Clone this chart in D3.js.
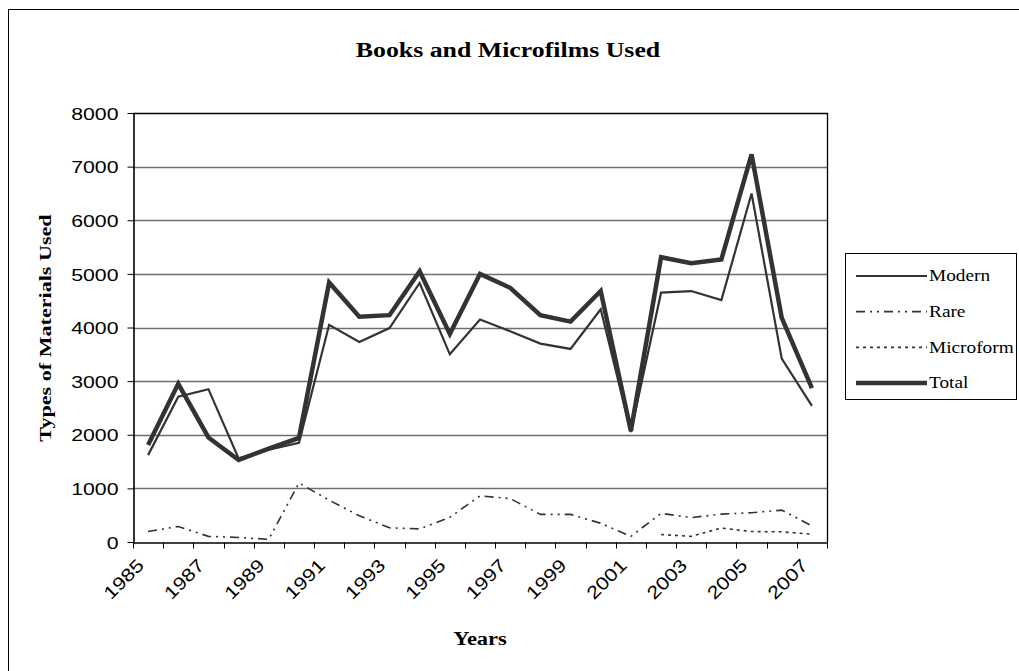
<!DOCTYPE html>
<html>
<head>
<meta charset="utf-8">
<script src="https://cdn.jsdelivr.net/npm/d3@7/dist/d3.min.js"></script>
<style>
  html, body { margin: 0; padding: 0; background: #fff; }
  svg { display: block; }
</style>
</head>
<body>
<svg id="chart" width="1019" height="671"></svg>
<script>
// ---- Data ----
const years = ["1985","1986","1987","1988","1989","1990","1991","1992","1993","1994","1995","1996",
               "1997","1998","1999","2000","2001","2002","2003","2004","2005","2006","2007"];
const tickLabels = ["1985","1987","1989","1991","1993","1995","1997","1999","2001","2003","2005","2007"];
const yTicks = [0,1000,2000,3000,4000,5000,6000,7000,8000];
const modern = [1620,2710,2850,1560,1720,1850,4050,3730,3990,4830,3500,4150,
                3930,3700,3600,4340,2050,4650,4680,4510,6500,3420,2540];
const rare = [195,290,105,85,50,1100,780,490,265,245,460,860,
              810,515,515,350,105,535,455,520,545,595,300];
const microform = [null,null,null,null,null,null,null,null,null,null,null,null,
                   null,null,null,null,null,140,105,260,195,190,145];
const total = [1810,2950,1950,1530,1740,1940,4840,4200,4230,5050,3880,5000,
               4740,4230,4110,4680,2070,5310,5200,5270,7230,4180,2870];
const seriesNames = ["Modern","Rare","Microform","Total"];

// ---- Layout ----
const svg = d3.select("#chart");
const plot = {left: 133, right: 827, top: 113, bottom: 542};
const serif = "'Liberation Serif','Times New Roman',serif";
const sans = "'Liberation Sans',Arial,sans-serif";
const lineColor = "#333333";

function stretch(sel, k) {
  sel.each(function() {
    const L = this.getComputedTextLength();
    d3.select(this).attr("textLength", L * k).attr("lengthAdjust", "spacingAndGlyphs");
  });
}

// outer border
svg.append("rect").attr("x", 8.5).attr("y", 9.5).attr("width", 1030).attr("height", 700)
  .attr("fill", "none").attr("stroke", "#000").attr("stroke-width", 1);

const x = d3.scaleBand().domain(years).range([plot.left, plot.right]).padding(0);
const y = d3.scaleLinear().domain([0, 8000]).range([plot.bottom, plot.top]);
const cx = d => x(d) + x.bandwidth() / 2;

// gridlines
svg.append("g").selectAll("line").data(yTicks.filter(v => v > 0 && v < 8000)).join("line")
  .attr("x1", plot.left).attr("x2", plot.right)
  .attr("y1", d => Math.round(y(d)) + 0.5).attr("y2", d => Math.round(y(d)) + 0.5)
  .attr("stroke", "#6e6e6e").attr("stroke-width", 1.3);

// plot box top/right
svg.append("path")
  .attr("d", `M${plot.left},${plot.top + 0.5}H${plot.right + 0.5}V${plot.bottom}`)
  .attr("fill", "none").attr("stroke", "#000").attr("stroke-width", 1.3);

// y axis
const yAxis = svg.append("g").attr("transform", `translate(${plot.left + 0.5},0)`)
  .call(d3.axisLeft(y).tickValues(yTicks).tickSize(6).tickSizeOuter(0).tickPadding(9).tickFormat(d3.format("d")));
yAxis.select(".domain").attr("stroke", "#000").attr("stroke-width", 1.6);
yAxis.selectAll(".tick line").attr("stroke", "#000");
yAxis.selectAll(".tick text").attr("font-family", sans).attr("font-size", 17).attr("fill", "#000")
  .attr("dy", "0.36em");
stretch(yAxis.selectAll(".tick text"), 1.25);

// x axis
const xAxis = svg.append("g").attr("transform", `translate(0,${plot.bottom + 0.5})`)
  .call(d3.axisBottom(x).tickSize(0).tickFormat(""));
xAxis.select(".domain").attr("stroke", "#000").attr("stroke-width", 1.6);
// tick marks at band boundaries
const bounds = years.map(d => x(d)).concat([plot.right]);
xAxis.selectAll(".bound").data(bounds).join("line").attr("class", "bound")
  .attr("x1", d => Math.round(d) + 0.5).attr("x2", d => Math.round(d) + 0.5)
  .attr("y1", 0).attr("y2", 6).attr("stroke", "#000").attr("stroke-width", 1);
// rotated labels
const xl = xAxis.selectAll(".xl").data(tickLabels).join("text").attr("class", "xl")
  .attr("transform", d => `translate(${cx(d) - 3},${24}) rotate(-45)`)
  .attr("text-anchor", "end")
  .attr("font-family", sans).attr("font-size", 18).attr("fill", "#000")
  .text(d => d);
stretch(xl, 1.2);

// lines
const mk = arr => years.map((yr, i) => ({yr, v: arr[i]}));
const lineGen = d3.line().defined(d => d.v != null).x(d => cx(d.yr)).y(d => y(d.v));
const styles = {
  Modern: {w: 2.2, dash: null},
  Rare: {w: 1.6, dash: "9,5,2,5,2,5"},
  Microform: {w: 1.6, dash: "3,4"},
  Total: {w: 4.5, dash: null}
};
const dataMap = {Modern: modern, Rare: rare, Microform: microform, Total: total};
["Rare","Microform","Modern","Total"].forEach(name => {
  svg.append("path").datum(mk(dataMap[name]))
    .attr("d", lineGen).attr("fill", "none").attr("stroke", lineColor)
    .attr("stroke-width", styles[name].w)
    .attr("stroke-dasharray", styles[name].dash)
    .attr("stroke-linejoin", "miter");
});

// title
const title = svg.append("text").attr("x", 508).attr("y", 57).attr("text-anchor", "middle")
  .attr("font-family", serif).attr("font-weight", "bold").attr("font-size", 20.5).attr("fill", "#000")
  .text("Books and Microfilms Used");
stretch(title, 1.26);

// y title
const yt = svg.append("text").attr("transform", "translate(51,328) rotate(-90)")
  .attr("text-anchor", "middle")
  .attr("font-family", serif).attr("font-weight", "bold").attr("font-size", 17).attr("fill", "#000")
  .text("Types of Materials Used");
stretch(yt, 1.3);

// x title
const xt = svg.append("text").attr("x", 480).attr("y", 645).attr("text-anchor", "middle")
  .attr("font-family", serif).attr("font-weight", "bold").attr("font-size", 18).attr("fill", "#000")
  .text("Years");
stretch(xt, 1.25);

// legend
const lg = svg.append("g");
lg.append("rect").attr("x", 845.5).attr("y", 253.5).attr("width", 171).attr("height", 146)
  .attr("fill", "#fff").attr("stroke", "#000").attr("stroke-width", 1);
const legY = d3.scalePoint().domain(seriesNames).range([276, 383]);
seriesNames.forEach(name => {
  lg.append("line").attr("x1", 856).attr("x2", 927)
    .attr("y1", legY(name)).attr("y2", legY(name))
    .attr("stroke", lineColor).attr("stroke-width", styles[name].w)
    .attr("stroke-dasharray", styles[name].dash);
  const t = lg.append("text").attr("x", 929).attr("y", legY(name)).attr("dy", "0.33em")
    .attr("font-family", serif).attr("font-size", 16.5).attr("fill", "#000").text(name);
  stretch(t, 1.17);
});
</script>
</body>
</html>
